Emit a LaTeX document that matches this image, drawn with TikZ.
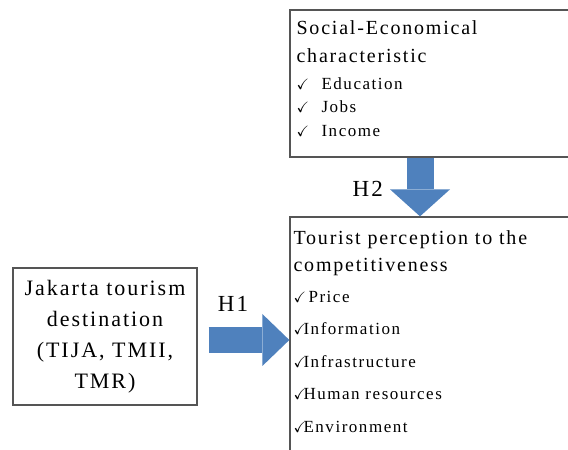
\documentclass[tikz,border=0pt]{standalone}
\usepackage{amssymb}
\usepackage{fontspec}
\setmainfont{Liberation Serif}[LetterSpace=9]
\usetikzlibrary{positioning,arrows.meta}
\definecolor{arrowblue}{RGB}{79,129,189}
\definecolor{boxgray}{RGB}{85,85,85}
\newcommand{\chk}{\makebox[10pt][l]{\fontsize{15}{15}\selectfont$\checkmark$}}
\newcommand{\ttl}[1]{{\fontsize{20}{20}\selectfont #1}}

\begin{document}
\begin{tikzpicture}[x=1pt,y=1pt,
  box/.style={draw=boxgray,line width=1.3pt,inner sep=0pt},
  txt/.style={inner sep=0pt,anchor=base west,font=\fontsize{17}{23.5}\selectfont},
  hlbl/.style={inner sep=0pt,font=\fontsize{23}{23}\selectfont}]

  \useasboundingbox (0,0) rectangle (568,450);
  \clip (0,0) rectangle (568,450);

  % the three boxes
  \node[box,minimum width=285,minimum height=147] (soc) at (432.5,366.5) {};
  \node[box,minimum width=285,minimum height=246] (tp) at (432.5,110) {};
  \node[box,minimum width=184,minimum height=137,align=center,
    font=\fontsize{22}{31}\selectfont] (jkt) at (105,113.5)
    {Jakarta tourism\\destination\\(TIJA, TMII,\\TMR)};

  % lists inside the right boxes
  \node[txt] (soctxt) at ([xshift=7,yshift=-25]soc.north west) {%
    \begin{tabular}[t]{@{}l@{}}
      \ttl{Social-Economical}\\[4.5pt]
      \ttl{characteristic}\\[3.5pt]
      \chk\hspace{15pt}Education\\
      \chk\hspace{15pt}Jobs\\
      \chk\hspace{15pt}Income
    \end{tabular}};
  \node[txt] (tptxt) at ([xshift=4,yshift=-28]tp.north west) {%
    \begin{tabular}[t]{@{}l@{}}
      \ttl{Tourist perception to the}\\[3.5pt]
      \ttl{competitiveness}\\[7.5pt]
      \chk\hspace{5pt}Price\\[9pt]
      \chk Information\\[9pt]
      \chk Infrastructure\\[9pt]
      \chk Human resources\\[9pt]
      \chk Environment
    \end{tabular}};

  % block arrows
  \draw[arrowblue,line width=26pt,shorten <=11pt,
    -{Triangle[length=27pt,width=52pt,line width=0pt]}]
    (jkt.east |- tp.west) -- (tp.west);
  \draw[arrowblue,line width=27pt,
    -{Triangle[length=27pt,width=60pt,line width=0pt]}]
    ([xshift=-12.5]soc.south) -- ([xshift=-12.5]tp.north);

  \node[hlbl,anchor=base west] (h1) at ([xshift=20,yshift=24.5]jkt.east) {H1};
  \node[hlbl,anchor=base east] (h2) at ([xshift=-49.5,yshift=-39]soc.south) {H2};
\end{tikzpicture}
\end{document}
